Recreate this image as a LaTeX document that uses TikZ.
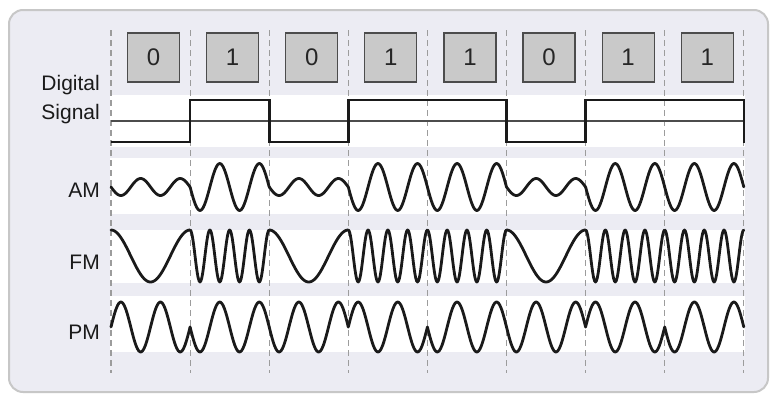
\documentclass[tikz,border=0pt]{standalone}
\usepackage{fontspec}
\setmainfont{Liberation Sans}
\usepackage{tikz}
\definecolor{panel}{HTML}{ECECF3}
\definecolor{bitgray}{HTML}{C9C9C9}
\definecolor{gridgray}{HTML}{9C9C9C}
\definecolor{ink}{HTML}{1A1A1A}

\begin{document}
\begin{tikzpicture}[x=1pt,y=-1pt,
  lbl/.style={anchor=base east,font=\fontsize{21}{25}\selectfont,text=ink,inner sep=0pt},
  bitbox/.style={draw=black!70,fill=bitgray,line width=1.2pt,minimum width=52pt,minimum height=49pt,font=\fontsize{24}{28}\selectfont,text=black!85},
  wave/.style={draw=ink,line width=2.8pt,line join=round,line cap=round}]
\useasboundingbox (0,0) rectangle (777,399);
% panel behind everything
\fill[white] (0,0) rectangle (777,399);
\draw[rounded corners=14pt,draw=black!22,line width=2pt,fill=panel] (9,10) rectangle (768,392);
% bit period (pixels)
\def\xo{111}
\def\w{79.1}
% white bands of the four rows
\foreach \ya/\yb in {95/147,158/214,230/283,296/352}
  \fill[white] (110,\ya) rectangle (745,\yb);
% bit borders
\foreach \i in {0,...,8}
  \draw[gridgray,line width=1.2pt,dash pattern=on 6pt off 4pt] (\xo+\i*\w,30) -- (\xo+\i*\w,373);
% data bits
\foreach \b [count=\i from 0] in {0,1,0,1,1,0,1,1}
  \node[bitbox] (bit\i) at (\xo+\i*\w+\w/2+3,57.5) {\b};
% row labels
\node[lbl] (dig) at (100,90) {Digital};
\node[lbl] (sig) at (100,119) {Signal};
\node[lbl] (am) at (100,197) {AM};
\node[lbl] (fm) at (100,269) {FM};
\node[lbl] (pm) at (100,339) {PM};
% digital signal, high 100 / low 142
\draw[black!70,line width=1.2pt] (\xo,121) -- (\xo+8*\w,121);
\draw[wave,line width=2.6pt,line cap=butt,line join=miter] (\xo,142) -- (\xo+\w,142) -- (\xo+\w,100) -- (\xo+2*\w,100)
  -- (\xo+2*\w,142) -- (\xo+3*\w,142) -- (\xo+3*\w,100) -- (\xo+5*\w,100) -- (\xo+5*\w,142)
  -- (\xo+6*\w,142) -- (\xo+6*\w,100) -- (\xo+8*\w,100) -- (\xo+8*\w,143);
% AM: two carrier cycles per bit, amplitude by bit
\foreach \b [count=\i from 0] in {0,1,0,1,1,0,1,1}{
  \pgfmathsetmacro\amp{\b==1 ? 23.5 : 8.5}
  \draw[wave] plot[domain=0:1,samples=61,smooth] ({\xo+(\i+\x)*\w},{187+\amp*sin(720*\x)});
}
% FM: one cycle for 0, four for 1
\foreach \b [count=\i from 0] in {0,1,0,1,1,0,1,1}{
  \pgfmathsetmacro\fq{\b==1 ? 4 : 1}
  \draw[wave] plot[domain=0:1,samples=97,smooth] ({\xo+(\i+\x)*\w},{256-26*cos(360*\fq*\x)});
}
% PM: phase flips on every 1
\foreach \s [count=\i from 0] in {1,-1,-1,1,-1,-1,1,-1}
  \draw[wave] plot[domain=0:1,samples=61,smooth] ({\xo+(\i+\x)*\w},{327-25*\s*sin(720*\x)});
\end{tikzpicture}
\end{document}
